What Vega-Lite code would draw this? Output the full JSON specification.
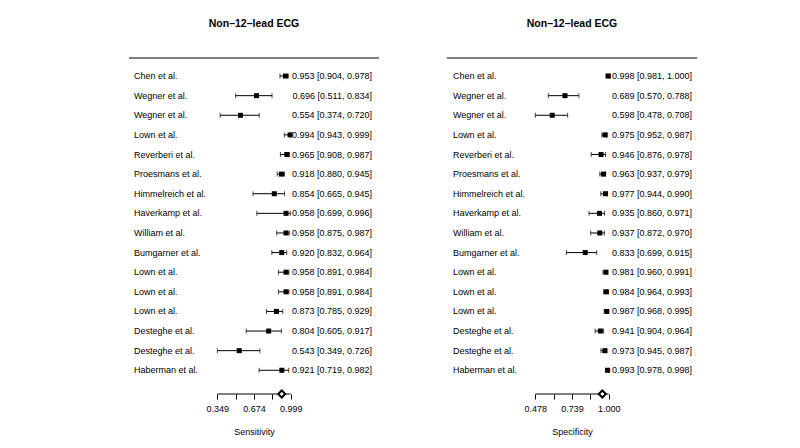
{
  "$schema": "https://vega.github.io/schema/vega-lite/v6.json",
  "padding": {"left": 128, "top": 18, "right": 0, "bottom": 8},
  "background": "white",
  "config": {
    "view": {"stroke": null},
    "font": "Liberation Sans",
    "text": {"font": "Liberation Sans", "fontSize": 9, "color": "black"},
    "title": {"font": "Liberation Sans", "fontSize": 10.5, "fontWeight": "bold", "color": "black", "anchor": "middle", "offset": 28},
    "axis": {"labelFont": "Liberation Sans", "titleFont": "Liberation Sans", "labelColor": "black", "titleColor": "black", "tickColor": "black", "labelFontSize": 9, "titleFontSize": 9, "titleFontWeight": "normal", "grid": false, "domain": false, "tickSize": 5, "labelPadding": 5, "titlePadding": 14, "labelAngle": 0}
  },
  "datasets": {
    "studies": [
      {"row": 1, "study": "Chen et al.", "sens": 0.953, "sens_lo": 0.904, "sens_hi": 0.978, "sens_txt": "0.953 [0.904, 0.978]", "spec": 0.998, "spec_lo": 0.981, "spec_hi": 1.000, "spec_txt": "0.998 [0.981, 1.000]"},
      {"row": 2, "study": "Wegner et al.", "sens": 0.696, "sens_lo": 0.511, "sens_hi": 0.834, "sens_txt": "0.696 [0.511, 0.834]", "spec": 0.689, "spec_lo": 0.570, "spec_hi": 0.788, "spec_txt": "0.689 [0.570, 0.788]"},
      {"row": 3, "study": "Wegner et al.", "sens": 0.554, "sens_lo": 0.374, "sens_hi": 0.720, "sens_txt": "0.554 [0.374, 0.720]", "spec": 0.598, "spec_lo": 0.478, "spec_hi": 0.708, "spec_txt": "0.598 [0.478, 0.708]"},
      {"row": 4, "study": "Lown  et al.", "sens": 0.994, "sens_lo": 0.943, "sens_hi": 0.999, "sens_txt": "0.994 [0.943, 0.999]", "spec": 0.975, "spec_lo": 0.952, "spec_hi": 0.987, "spec_txt": "0.975 [0.952, 0.987]"},
      {"row": 5, "study": "Reverberi et al.", "sens": 0.965, "sens_lo": 0.908, "sens_hi": 0.987, "sens_txt": "0.965 [0.908, 0.987]", "spec": 0.946, "spec_lo": 0.876, "spec_hi": 0.978, "spec_txt": "0.946 [0.876, 0.978]"},
      {"row": 6, "study": "Proesmans et al.", "sens": 0.918, "sens_lo": 0.880, "sens_hi": 0.945, "sens_txt": "0.918 [0.880, 0.945]", "spec": 0.963, "spec_lo": 0.937, "spec_hi": 0.979, "spec_txt": "0.963 [0.937, 0.979]"},
      {"row": 7, "study": "Himmelreich et al.", "sens": 0.854, "sens_lo": 0.665, "sens_hi": 0.945, "sens_txt": "0.854 [0.665, 0.945]", "spec": 0.977, "spec_lo": 0.944, "spec_hi": 0.990, "spec_txt": "0.977 [0.944, 0.990]"},
      {"row": 8, "study": "Haverkamp et al.", "sens": 0.958, "sens_lo": 0.699, "sens_hi": 0.996, "sens_txt": "0.958 [0.699, 0.996]", "spec": 0.935, "spec_lo": 0.860, "spec_hi": 0.971, "spec_txt": "0.935 [0.860, 0.971]"},
      {"row": 9, "study": "William et al.", "sens": 0.958, "sens_lo": 0.875, "sens_hi": 0.987, "sens_txt": "0.958 [0.875, 0.987]", "spec": 0.937, "spec_lo": 0.872, "spec_hi": 0.970, "spec_txt": "0.937 [0.872, 0.970]"},
      {"row": 10, "study": "Bumgarner et al.", "sens": 0.920, "sens_lo": 0.832, "sens_hi": 0.964, "sens_txt": "0.920 [0.832, 0.964]", "spec": 0.833, "spec_lo": 0.699, "spec_hi": 0.915, "spec_txt": "0.833 [0.699, 0.915]"},
      {"row": 11, "study": "Lown et al.", "sens": 0.958, "sens_lo": 0.891, "sens_hi": 0.984, "sens_txt": "0.958 [0.891, 0.984]", "spec": 0.981, "spec_lo": 0.960, "spec_hi": 0.991, "spec_txt": "0.981 [0.960, 0.991]"},
      {"row": 12, "study": "Lown et al.", "sens": 0.958, "sens_lo": 0.891, "sens_hi": 0.984, "sens_txt": "0.958 [0.891, 0.984]", "spec": 0.984, "spec_lo": 0.964, "spec_hi": 0.993, "spec_txt": "0.984 [0.964, 0.993]"},
      {"row": 13, "study": "Lown et al.", "sens": 0.873, "sens_lo": 0.785, "sens_hi": 0.929, "sens_txt": "0.873 [0.785, 0.929]", "spec": 0.987, "spec_lo": 0.968, "spec_hi": 0.995, "spec_txt": "0.987 [0.968, 0.995]"},
      {"row": 14, "study": "Desteghe et al.", "sens": 0.804, "sens_lo": 0.605, "sens_hi": 0.917, "sens_txt": "0.804 [0.605, 0.917]", "spec": 0.941, "spec_lo": 0.904, "spec_hi": 0.964, "spec_txt": "0.941 [0.904, 0.964]"},
      {"row": 15, "study": "Desteghe et al.", "sens": 0.543, "sens_lo": 0.349, "sens_hi": 0.726, "sens_txt": "0.543 [0.349, 0.726]", "spec": 0.973, "spec_lo": 0.945, "spec_hi": 0.987, "spec_txt": "0.973 [0.945, 0.987]"},
      {"row": 16, "study": "Haberman et al.", "sens": 0.921, "sens_lo": 0.719, "sens_hi": 0.982, "sens_txt": "0.921 [0.719, 0.982]", "spec": 0.993, "spec_lo": 0.978, "spec_hi": 0.998, "spec_txt": "0.993 [0.978, 0.998]"}
    ]
  },
  "spacing": 66,
  "hconcat": [
    {
      "width": 250,
      "height": 336,
      "title": {"text": "Non\u201312\u2013lead ECG"},
      "data": {"name": "studies"},
      "layer": [
        {
          "mark": {"type": "rule", "color": "black", "strokeWidth": 1},
          "encoding": {
            "x": {"field": "sens_lo", "type": "quantitative", "scale": {"domain": [-0.4345, 1.7825], "nice": false, "zero": false},
                  "axis": {"title": "Sensitivity", "values": [0.349, 0.5115, 0.674, 0.8365, 0.999], "labelExpr": "abs(datum.value-0.5115)<0.01 || abs(datum.value-0.8365)<0.01 ? '' : format(datum.value, '.3f')"}},
            "x2": {"field": "sens_hi"},
            "y": {"field": "row", "type": "quantitative", "scale": {"domain": [0.08, 17.21], "reverse": true, "nice": false, "zero": false}, "axis": null}
          }
        },
        {
          "mark": {"type": "tick", "orient": "vertical", "color": "black", "size": 5, "thickness": 1},
          "encoding": {
            "x": {"field": "sens_lo", "type": "quantitative"},
            "y": {"field": "row", "type": "quantitative"}
          }
        },
        {
          "mark": {"type": "tick", "orient": "vertical", "color": "black", "size": 5, "thickness": 1},
          "encoding": {
            "x": {"field": "sens_hi", "type": "quantitative"},
            "y": {"field": "row", "type": "quantitative"}
          }
        },
        {
          "mark": {"type": "point", "shape": "square", "filled": true, "color": "black", "opacity": 1, "size": 25},
          "encoding": {
            "x": {"field": "sens", "type": "quantitative"},
            "y": {"field": "row", "type": "quantitative"}
          }
        },
        {
          "mark": {"type": "text", "align": "left", "baseline": "middle"},
          "encoding": {
            "x": {"datum": -0.3902, "type": "quantitative"},
            "y": {"field": "row", "type": "quantitative"},
            "text": {"field": "study"}
          }
        },
        {
          "mark": {"type": "text", "align": "right", "baseline": "middle"},
          "encoding": {
            "x": {"datum": 1.7203, "type": "quantitative"},
            "y": {"field": "row", "type": "quantitative"},
            "text": {"field": "sens_txt"}
          }
        },
        {
          "data": {"values": [{}]},
          "mark": {"type": "rule", "color": "#555555", "strokeWidth": 1.6},
          "encoding": {"y": {"datum": 0.08, "type": "quantitative"}}
        },
        {
          "data": {"values": [{}]},
          "mark": {"type": "rule", "color": "black", "strokeWidth": 1},
          "encoding": {"x": {"datum": 0.349, "type": "quantitative"}, "x2": {"datum": 0.999}, "y": {"datum": 17.21, "type": "quantitative"}}
        },
        {
          "data": {"values": [{"summary": 0.92}]},
          "mark": {"type": "point", "shape": "diamond", "filled": true, "fill": "white", "stroke": "black", "strokeWidth": 2, "size": 50, "opacity": 1},
          "encoding": {"x": {"field": "summary", "type": "quantitative"}, "y": {"datum": 17.21, "type": "quantitative"}}
        }
      ]
    },
    {
      "width": 250,
      "height": 336,
      "title": {"text": "Non\u201312\u2013lead ECG"},
      "data": {"name": "studies"},
      "layer": [
        {
          "mark": {"type": "rule", "color": "black", "strokeWidth": 1},
          "encoding": {
            "x": {"field": "spec_lo", "type": "quantitative", "scale": {"domain": [-0.1513, 1.6293], "nice": false, "zero": false},
                  "axis": {"title": "Specificity", "values": [0.478, 0.6085, 0.739, 0.8695, 1.0], "labelExpr": "abs(datum.value-0.6085)<0.01 || abs(datum.value-0.8695)<0.01 ? '' : format(datum.value, '.3f')"}},
            "x2": {"field": "spec_hi"},
            "y": {"field": "row", "type": "quantitative", "scale": {"domain": [0.08, 17.21], "reverse": true, "nice": false, "zero": false}, "axis": null}
          }
        },
        {
          "mark": {"type": "tick", "orient": "vertical", "color": "black", "size": 5, "thickness": 1},
          "encoding": {
            "x": {"field": "spec_lo", "type": "quantitative"},
            "y": {"field": "row", "type": "quantitative"}
          }
        },
        {
          "mark": {"type": "tick", "orient": "vertical", "color": "black", "size": 5, "thickness": 1},
          "encoding": {
            "x": {"field": "spec_hi", "type": "quantitative"},
            "y": {"field": "row", "type": "quantitative"}
          }
        },
        {
          "mark": {"type": "point", "shape": "square", "filled": true, "color": "black", "opacity": 1, "size": 25},
          "encoding": {
            "x": {"field": "spec", "type": "quantitative"},
            "y": {"field": "row", "type": "quantitative"}
          }
        },
        {
          "mark": {"type": "text", "align": "left", "baseline": "middle"},
          "encoding": {
            "x": {"datum": -0.1086, "type": "quantitative"},
            "y": {"field": "row", "type": "quantitative"},
            "text": {"field": "study"}
          }
        },
        {
          "mark": {"type": "text", "align": "right", "baseline": "middle"},
          "encoding": {
            "x": {"datum": 1.5937, "type": "quantitative"},
            "y": {"field": "row", "type": "quantitative"},
            "text": {"field": "spec_txt"}
          }
        },
        {
          "data": {"values": [{}]},
          "mark": {"type": "rule", "color": "#555555", "strokeWidth": 1.6},
          "encoding": {"y": {"datum": 0.08, "type": "quantitative"}}
        },
        {
          "data": {"values": [{}]},
          "mark": {"type": "rule", "color": "black", "strokeWidth": 1},
          "encoding": {"x": {"datum": 0.478, "type": "quantitative"}, "x2": {"datum": 1.0}, "y": {"datum": 17.21, "type": "quantitative"}}
        },
        {
          "data": {"values": [{"summary": 0.955}]},
          "mark": {"type": "point", "shape": "diamond", "filled": true, "fill": "white", "stroke": "black", "strokeWidth": 2, "size": 50, "opacity": 1},
          "encoding": {"x": {"field": "summary", "type": "quantitative"}, "y": {"datum": 17.21, "type": "quantitative"}}
        }
      ]
    }
  ]
}
